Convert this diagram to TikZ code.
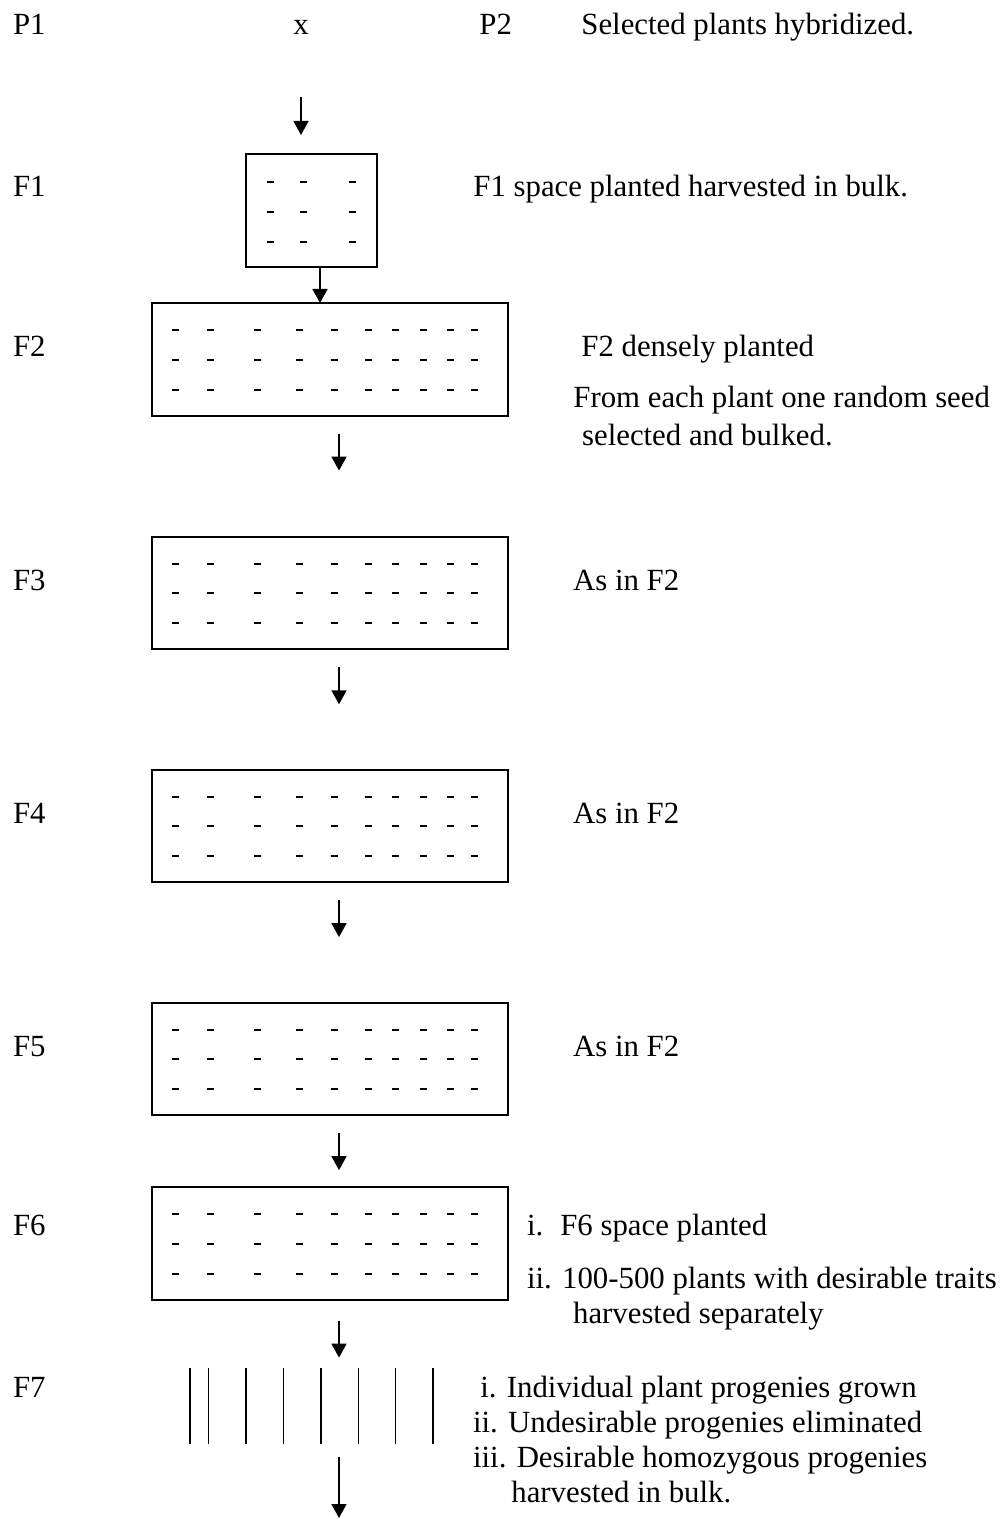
\documentclass[tikz,border=0pt]{standalone}
\usepackage{fontspec}
\setmainfont{Liberation Serif}
\usetikzlibrary{arrows.meta,positioning}

\begin{document}
\begin{tikzpicture}[x=0.5pt,y=-0.5pt,font=\fontsize{15.4pt}{18pt}\selectfont,
gen/.style={anchor=base west, inner sep=0pt},
note/.style={anchor=base west, inner sep=0pt},
bed/.style={draw, line width=1pt, anchor=north west, minimum width=178pt,
    minimum height=56.3pt, inner sep=0pt, outer sep=0pt},
seed/.style={line width=1pt},
row/.style={line width=0.8pt},
down/.style={line width=0.7pt, -{Triangle[width=7.5pt,length=7pt]}}]
\useasboundingbox (0,0) rectangle (1005,1519);

% parents
\node[gen] (P1) at (12.7,35) {P1};
\node[anchor=base, inner sep=0pt] (cross) at (301,35) {x};
\node[gen] (P2) at (479,35) {P2};
\node[note] (hyb) at (581,35) {Selected plants hybridized.};

% generation labels
\node[gen] (F1) at (12.7,197) {F1};
\node[gen] (F2) at (12.7,357) {F2};
\node[gen] (F3) at (12.7,590) {F3};
\node[gen] (F4) at (12.7,823) {F4};
\node[gen] (F5) at (12.7,1056) {F5};
\node[gen] (F6) at (12.7,1235) {F6};
\node[gen] (F7) at (12.7,1397) {F7};

% plots
\node[bed, minimum width=65.5pt] (bed1) at (245.7,154) {};
\node[bed] (bed2) at (152,303) {};
\node[bed] (bed3) at (152,536.7) {};
\node[bed] (bed4) at (152,769.5) {};
\node[bed] (bed5) at (152,1002.5) {};
\node[bed] (bed6) at (152,1187) {};
\foreach \r in {27.7,57.7,87.7}
  \foreach \c in {24.3,57.3,106.3}
    \draw[seed] ([shift={(\c-3.5,\r)}]bed1.north west) -- ++(7,0);
\foreach \b in {2,...,6}
  \foreach \r in {27,56.7,86.7}
    \foreach \c in {23.7,58,105.3,147.3,182,216.3,243.3,271.3,298.7,322.3}
      \draw[seed] ([shift={(\c-3.5,\r)}]bed\b.north west) -- ++(7,0);

% F7 progeny rows
\foreach \x in {190,208.3,245.7,283.3,320.7,358.3,395.3,432.7}
  \draw[row] (\x,1368) -- (\x,1444);

% arrows
\coordinate (top) at (301,97);
\coordinate (last) at (339,1457);
\draw[down] (top) -- ++(0,38);
\draw[down] ([xshift=4.4pt]bed1.south) -- ([xshift=4.4pt]bed1.south |- bed2.north);
\foreach \b in {2,...,5}
  \draw[down] ([xshift=4.5pt,yshift=-9pt]bed\b.south) -- ++(0,37);
\draw[down] ([xshift=4.5pt,yshift=-10.5pt]bed6.south) -- ++(0,37);
\draw[down] (last) -- ++(0,61);

% notes
\node[note] (n1) at (473,197) {F1 space planted harvested in bulk.};
\node[note] (n2) at (581,357) {F2 densely planted};
\node[note] (n2a) at (573,408) {From each plant one random seed};
\node[note] (n2b) at (581.7,445) {selected and bulked.};
\node[note] (n3) at (572.7,590.7) {As in F2};
\node[note] (n4) at (572.7,823.3) {As in F2};
\node[note] (n5) at (572.7,1056) {As in F2};
\node[note] (n6) at (526.7,1235) {i.\hspace{0.55em}F6 space planted};
\node[note] (n6a) at (526.7,1288) {ii. 100-500 plants with desirable traits};
\node[note] (n6b) at (572.7,1323) {harvested separately};
\node[note] (n7) at (480,1397) {i. Individual plant progenies grown};
\node[note] (n7a) at (472.7,1432) {ii. Undesirable progenies eliminated};
\node[note] (n7b) at (472.7,1467) {iii. Desirable homozygous progenies};
\node[note] (n7c) at (511,1502) {harvested in bulk.};
\end{tikzpicture}
\end{document}
